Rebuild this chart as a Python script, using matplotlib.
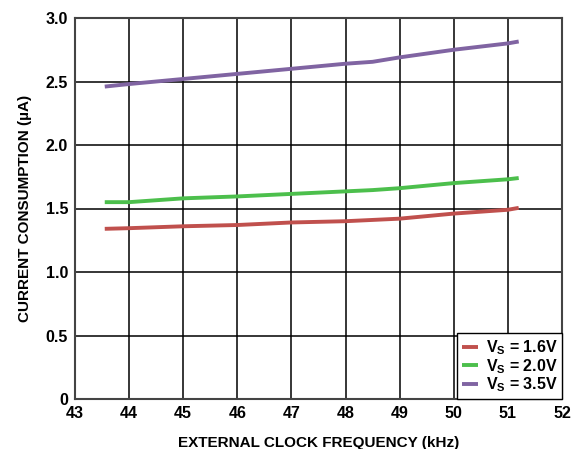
import numpy as np
import matplotlib
matplotlib.use('Agg')
import matplotlib.pyplot as plt
from matplotlib.ticker import FixedLocator

plt.rcParams['font.family'] = ['Liberation Sans', 'DejaVu Sans']
plt.rcParams['font.weight'] = 'bold'
plt.rcParams['axes.labelweight'] = 'bold'
plt.rcParams['mathtext.fontset'] = 'custom'
plt.rcParams['mathtext.rm'] = 'Liberation Sans:bold'
plt.rcParams['mathtext.it'] = 'Liberation Sans:bold'
plt.rcParams['mathtext.bf'] = 'Liberation Sans:bold'

freq = [43.55, 44.0, 45.0, 46.0, 47.0, 48.0, 48.5, 49.0, 50.0, 51.0, 51.2]
vs16 = [1.34, 1.345, 1.36, 1.37, 1.39, 1.40, 1.41, 1.42, 1.46, 1.49, 1.505]
vs20 = [1.55, 1.55, 1.58, 1.595, 1.615, 1.635, 1.645, 1.66, 1.70, 1.73, 1.74]
vs35 = [2.46, 2.48, 2.52, 2.56, 2.60, 2.64, 2.655, 2.69, 2.75, 2.80, 2.815]

labels = ['$V_S$ = 1.6V', '$V_S$ = 2.0V', '$V_S$ = 3.5V']
colors = ['#c0504d', '#4cbf4c', '#8064a2']

x_ticks = list(range(43, 53))
y_ticks = [0, 0.5, 1.0, 1.5, 2.0, 2.5, 3.0]
y_labels = ['0', '0.5', '1.0', '1.5', '2.0', '2.5', '3.0']

fig = plt.figure(figsize=(5.73, 4.49), dpi=100)
ax = fig.add_axes([75 / 573, 50 / 449, 487 / 573, 381 / 449])

for y, lab, c in zip([vs16, vs20, vs35], labels, colors):
    ax.plot(freq, y, color=c, lw=2.8, label=lab, solid_capstyle='butt')

ax.set_xlim(43, 52)
ax.set_ylim(0, 3.0)
ax.xaxis.set_major_locator(FixedLocator(x_ticks))
ax.set_xticklabels([str(t) for t in x_ticks])
ax.set_yticks(y_ticks)
ax.set_yticklabels(y_labels)
ax.tick_params(length=0, labelsize=11.5, pad=5)
ax.grid(True, color='black', lw=1.1)
ax.set_axisbelow(True)
for s in ax.spines.values():
    s.set_color('#444444')
    s.set_linewidth(1.5)

ax.set_xlabel('EXTERNAL CLOCK FREQUENCY (kHz)', fontsize=11, fontweight='bold', labelpad=11)
ax.set_ylabel('CURRENT CONSUMPTION (µA)', fontsize=11, fontweight='bold', labelpad=10)

leg = ax.legend(loc='lower right', fontsize=11.5, frameon=True, fancybox=False,
                handlelength=1.0, handletextpad=0.5, labelspacing=0.0,
                borderpad=0.3, borderaxespad=0.0)
leg.get_frame().set_edgecolor('black')
leg.get_frame().set_linewidth(1.0)
leg.get_frame().set_alpha(1)

fig.savefig('out.png', dpi=100)
